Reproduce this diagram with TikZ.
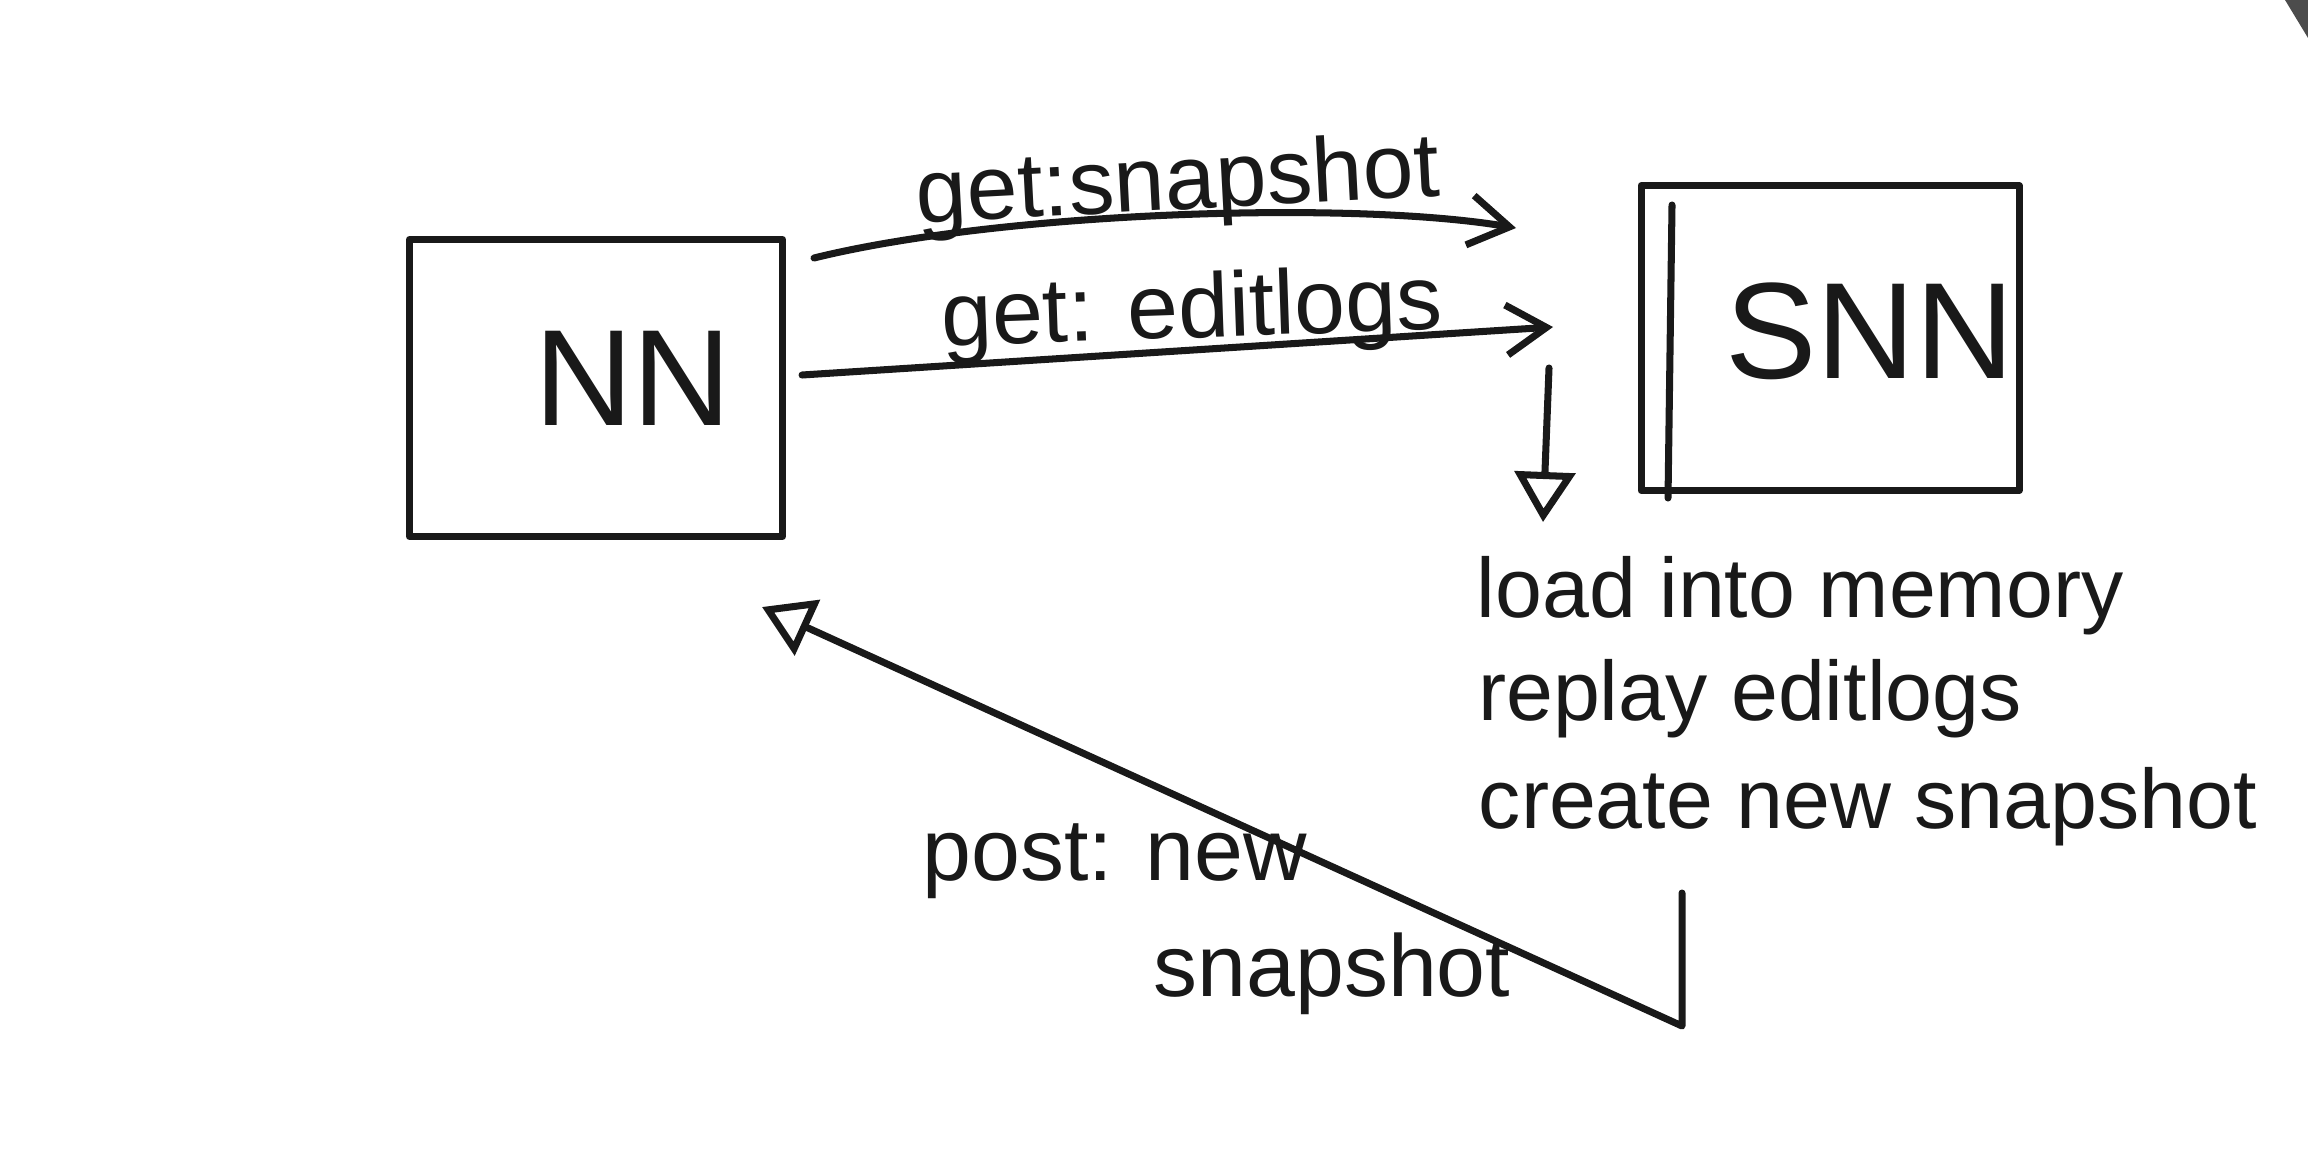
\documentclass[tikz,border=0pt]{standalone}
\usepackage{fontspec}
\setmainfont{Liberation Sans}
\usetikzlibrary{arrows.meta}
\begin{document}
\begin{tikzpicture}[x=0.1mm,y=-0.1mm,
 ink/.style={line width=2pt, draw=black!90, line cap=round, line join=round},
 box/.style={ink, rectangle, inner sep=0pt},
 lbl/.style={font=\fontsize{24}{28}\selectfont, inner sep=0pt, text=black!90},
 toplbl/.style={font=\fontsize{26}{30}\selectfont, inner sep=0pt, text=black!90},
 big/.style={font=\fontsize{39}{44}\selectfont, inner sep=0pt, text=black!90},
 barb/.style={-{Straight Barb[length=4mm,width=5mm,line width=2pt]}},
 tri/.style={-{Triangle[open,length=5mm,width=6mm,line width=2pt]}}]
\useasboundingbox (0,0) rectangle (2308,1165);
\fill[black!70] (2285,0) -- (2308,0) -- (2308,38) -- cycle;
% boxes
\node[box, minimum width=37.3mm, minimum height=29.7mm] (NN) at (596,388) {};
\node[big] (NNt) at (633,378) {NN};
\node[box, minimum width=37.8mm, minimum height=30.5mm] (SNN) at (1830,338) {};
\node[big] (SNNt) at (1870,331) {SNN};
\coordinate (s1) at (1672,205);
\coordinate (s2) at (1668,498);
\draw[ink] (s1) -- (s2);
% get arrows
\coordinate (a1s) at (814,258);
\coordinate (a1e) at (1516,228);
\draw[ink,barb] (a1s) .. controls (1000,212) and (1350,200) .. (a1e);
\node[toplbl, rotate=3] (l1) at (1178,186) {get:snapshot};
\coordinate (a2s) at (802,375);
\coordinate (a2e) at (1553,327);
\draw[ink,barb] (a2s) -- (a2e);
\node[toplbl, rotate=2] (l2) at (1192,314) {get: editlogs};
% steps
\node[lbl] (t1) at (1800,596) {load into memory};
\node[lbl] (t2) at (1750,699) {replay editlogs};
\node[lbl] (t3) at (1868,807) {create new snapshot};
\coordinate (d1) at (1549,368);
\coordinate (d2) at (1543,522);
\draw[ink,tri] (d1) -- (d2);
% return
\coordinate (r1) at (1682,893);
\coordinate (r2) at (1682,1026);
\coordinate (r3) at (762,607);
\draw[ink,tri] (r1) -- (r2) -- (r3);
\node[lbl, font=\fontsize{25}{29}\selectfont] (p1) at (1115,861) {post: new};
\node[lbl, font=\fontsize{25}{29}\selectfont] (p2) at (1332,974) {snapshot};
\end{tikzpicture}
\end{document}
